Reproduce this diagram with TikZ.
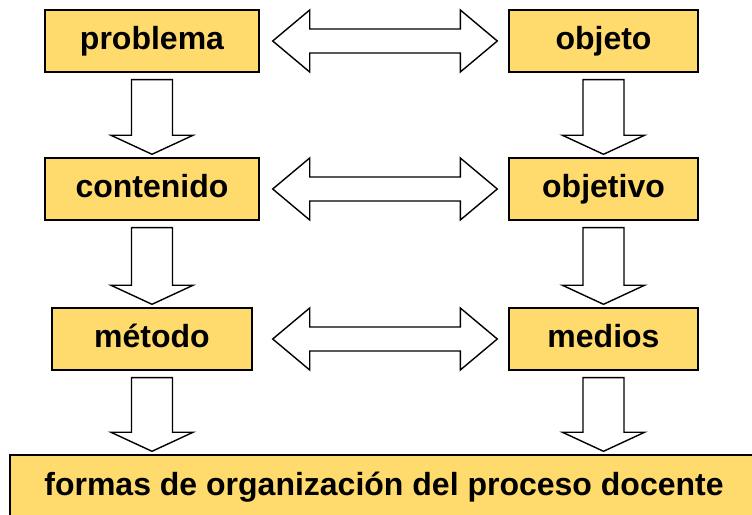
\documentclass[tikz,border=0pt]{standalone}
\usepackage{fontspec}
\setmainfont{Liberation Sans}
\usetikzlibrary{calc}
\definecolor{amarillo}{HTML}{FFDB6E}
\tikzset{
	caja/.style={draw=black,line width=1.4pt,fill=amarillo,inner sep=0pt,
		text height=24pt,text depth=6pt,
		font=\fontsize{32}{36}\selectfont\bfseries},
	flecha/.style={draw=black,line width=1.4pt,fill=white,line join=miter}
}
\newcommand{\dblblock}[3][13pt]{%
	\draw[flecha] let \p1=(#2.east), \p2=(#3.west) in
	(\x1+#1,\y1)--(\x1+#1+37pt,\y1+31pt)--(\x1+#1+37pt,\y1+12pt)
	--(\x2-48pt,\y1+12pt)--(\x2-48pt,\y1+31pt)--(\x2-11pt,\y1)
	--(\x2-48pt,\y1-31pt)--(\x2-48pt,\y1-12pt)--(\x1+#1+37pt,\y1-12pt)
	--(\x1+#1+37pt,\y1-31pt)--cycle;}
\newcommand{\downblock}[2]{%
	\draw[flecha] let \p1=(#1.south), \p2=(#2.north) in
	(\x1-20.5pt,\y1-7pt)--(\x1+20.5pt,\y1-7pt)--(\x1+20.5pt,\y2+22pt)
	--(\x1+41pt,\y2+22pt)--(\x1,\y2+3pt)--(\x1-41pt,\y2+22pt)
	--(\x1-20.5pt,\y2+22pt)--cycle;}
\begin{document}
\begin{tikzpicture}[x=1pt,y=1pt]
	\useasboundingbox (0,0) rectangle (752,514);
	\node[caja,minimum width=214,minimum height=62] (problema) at (152,473) {problema};
	\node[caja,minimum width=189,minimum height=62] (objeto) at (603.5,473) {objeto};
	%
	\node[caja,minimum width=214,minimum height=62] (contenido) at (152,325) {contenido};
	\node[caja,minimum width=189,minimum height=62] (objetivo) at (603.5,325) {objetivo};
	%
	\node[caja,minimum width=200,minimum height=62] (metodo) at (152,175) {método};
	\node[caja,minimum width=189,minimum height=62] (medios) at (603.5,175) {medios};
	%
	\node[caja,minimum width=748,minimum height=62] (formas) at (384,28) {formas de organización del proceso docente};
	%
	\dblblock{problema}{objeto}
	\dblblock{contenido}{objetivo}
	\dblblock[20pt]{metodo}{medios}
	%
	\downblock{problema}{contenido}
	\downblock{objeto}{objetivo}
	\downblock{contenido}{metodo}
	\downblock{objetivo}{medios}
	\downblock{metodo}{formas}
	\downblock{medios}{formas}
\end{tikzpicture}
\end{document}
